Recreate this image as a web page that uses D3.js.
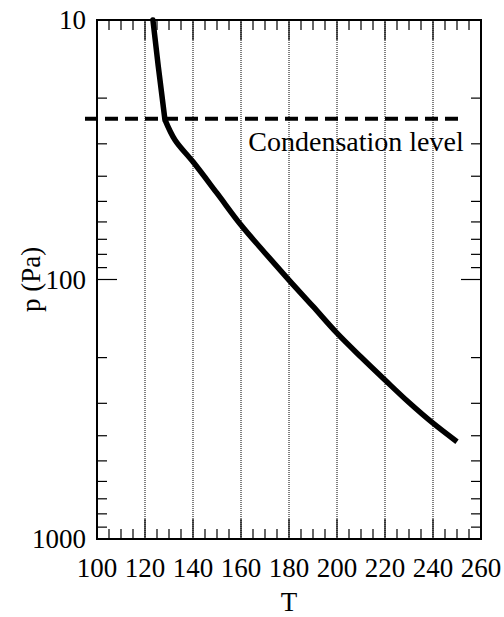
<!DOCTYPE html>
<html>
<head>
<meta charset="utf-8">
<script src="https://cdn.jsdelivr.net/npm/d3@7"></script>
</head>
<body style="margin:0; background:#fff">
<script>
// temperature (K) and pressure (Pa) of the profile
var temps = [123.3, 125.5, 128.3, 132.5, 140, 150, 160, 170, 180, 190, 200, 210, 220, 230, 240, 250];
var press = [10, 15, 24.2, 29, 35.2, 46.5, 61.7, 79, 100.5, 127, 161, 199, 244, 298, 358, 422];
var kinkIndex = 2; // the profile bends sharply at the condensation level

var condLevel = 24;
var condLabel = 'Condensation level';

var xTicks = [100, 120, 140, 160, 180, 200, 220, 240, 260];
var yTicks = [10, 100, 1000];

var params = {
	width: 504,
	height: 617,
	margin: {left: 97, top: 20, right: 23, bottom: 78},
	fontSize: 27,
	font: "'Liberation Serif', monospace"
};
params.w = params.width - params.margin.left - params.margin.right;
params.h = params.height - params.margin.top - params.margin.bottom;

var svg = d3.select('body').append('svg')
	.attr('width', params.width)
	.attr('height', params.height);

var x = d3.scaleLinear().domain([100, 260]).range([params.margin.left, params.margin.left + params.w]);
var y = d3.scaleLog().domain([10, 1000]).range([params.margin.top, params.margin.top + params.h]);
var x0 = x.range()[0], x1 = x.range()[1], y0 = y.range()[0], y1 = y.range()[1];

// text without text-anchor: shift by the measured width instead
function addText(parent, str, px, py, anchor, size){
	var t = parent.append('text')
		.attr('x', px).attr('y', py)
		.attr('font-size', size || params.fontSize)
		.style('font-family', params.font)
		.text(str);
	var wd = t.node().getComputedTextLength();
	if (anchor == 'middle') t.attr('x', px - wd / 2);
	if (anchor == 'end') t.attr('x', px - wd);
	return t;
}

// dotted vertical gridlines
svg.selectAll('line.grid')
	.data(xTicks.slice(1, -1))
	.enter().append('line')
		.attr('class', 'grid')
		.attr('x1', d => x(d)).attr('x2', d => x(d))
		.attr('y1', y0).attr('y2', y1)
		.attr('stroke', '#000')
		.attr('stroke-width', 1)
		.attr('stroke-dasharray', '1,1');

// minor ticks, every 5 K, pointing inward from top and bottom
var xMinor = d3.range(100, 261, 5).filter(d => d % 20 != 0);
var xMajor = xTicks.slice(1, -1);
function xTickMarks(yy, dir){
	svg.selectAll(null).data(xMinor).enter().append('line')
		.attr('x1', d => x(d)).attr('x2', d => x(d))
		.attr('y1', yy).attr('y2', yy + dir * 10)
		.attr('stroke', '#000').attr('stroke-width', 1.2);
	svg.selectAll(null).data(xMajor).enter().append('line')
		.attr('x1', d => x(d)).attr('x2', d => x(d))
		.attr('y1', yy).attr('y2', yy + dir * 20)
		.attr('stroke', '#000').attr('stroke-width', 1.2);
}
xTickMarks(y0, 1);
xTickMarks(y1, -1);

// log ticks on left and right, pointing inward
var yMinor = [];
[10, 100].forEach(function(dec){
	for (var k = 2; k <= 9; k++) yMinor.push(dec * k);
});
function yTickMarks(xx, dir){
	svg.selectAll(null).data(yMinor).enter().append('line')
		.attr('x1', xx).attr('x2', xx + dir * 10)
		.attr('y1', d => y(d)).attr('y2', d => y(d))
		.attr('stroke', '#000').attr('stroke-width', 1.2);
	svg.selectAll(null).data([100]).enter().append('line')
		.attr('x1', xx).attr('x2', xx + dir * 20)
		.attr('y1', d => y(d)).attr('y2', d => y(d))
		.attr('stroke', '#000').attr('stroke-width', 1.2);
}
yTickMarks(x0, 1);
yTickMarks(x1, -1);

// frame
svg.append('rect')
	.attr('x', x0).attr('y', y0)
	.attr('width', params.w).attr('height', params.h)
	.attr('fill', 'none')
	.attr('stroke', '#000')
	.attr('stroke-width', 2);

// tick labels
xTicks.forEach(function(d){
	addText(svg, d, x(d), y1 + 38, 'middle');
});
yTicks.forEach(function(d){
	addText(svg, d, x0 - 11, y(d) + 9, 'end');
});

// axis titles
addText(svg, 'T', (x0 + x1) / 2, y1 + 72, 'middle');

var yTitle = svg.append('g')
	.attr('transform', 'translate(' + (x0 - 57) + ',' + y(100) + ') rotate(-90)');
addText(yTitle, 'p (Pa)', 0, 0, 'middle');

// condensation level
svg.append('line')
	.attr('x1', x0 - 12).attr('x2', x(251))
	.attr('y1', y(condLevel)).attr('y2', y(condLevel))
	.attr('stroke', '#000')
	.attr('stroke-width', 4)
	.attr('stroke-dasharray', '13,7');

addText(svg, condLabel, x(252.8), y(condLevel) + 32, 'end', 28);

// profile: straight above the kink, smooth below it
var line = d3.line()
	.x(d => x(d[0]))
	.y(d => y(d[1]));
var pts = temps.map((t, i) => [t, press[i]]);

svg.append('path')
	.datum(pts.slice(0, kinkIndex + 1))
	.attr('d', line)
	.attr('fill', 'none')
	.attr('stroke', '#000')
	.attr('stroke-width', 5.5)
	.attr('stroke-linejoin', 'round')
	.attr('stroke-linecap', 'round');

svg.append('path')
	.datum(pts.slice(kinkIndex))
	.attr('d', line.curve(d3.curveCatmullRom))
	.attr('fill', 'none')
	.attr('stroke', '#000')
	.attr('stroke-width', 5.5)
	.attr('stroke-linejoin', 'round');
</script>
</body>
</html>
